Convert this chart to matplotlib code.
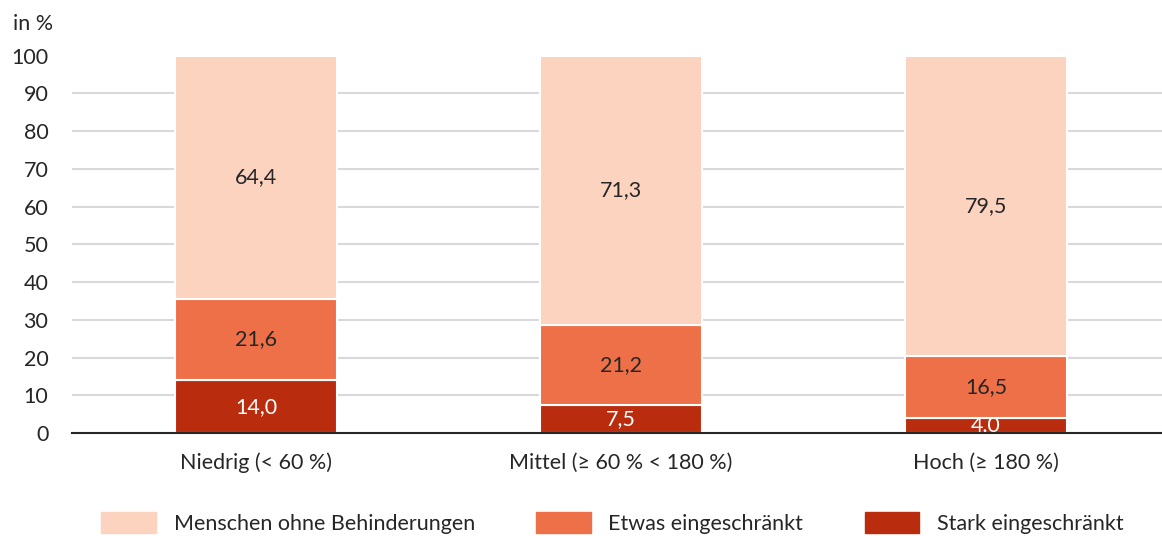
import numpy as np
import matplotlib.pyplot as plt
from matplotlib.patches import Patch

plt.rcParams['font.family'] = ['Lato', 'DejaVu Sans']

# Data
categories = ['Niedrig (< 60 %)', 'Mittel (≥ 60 % < 180 %)', 'Hoch (≥ 180 %)']
stark = [14.0, 7.5, 4.0]
etwas = [21.6, 21.2, 16.5]
ohne = [64.4, 71.3, 79.5]
series_names = ['Menschen ohne Behinderungen', 'Etwas eingeschränkt', 'Stark eingeschränkt']
yticks = [0, 10, 20, 30, 40, 50, 60, 70, 80, 90, 100]

# Colours
c_ohne = '#FBD3BF'
c_etwas = '#EE7048'
c_stark = '#B92C0D'
txt = '#262626'

fig = plt.figure(figsize=(11.62, 5.36), dpi=100)
ax = fig.add_axes([0.062, 0.192, 0.938, 0.704])

x = np.arange(len(categories))
w = 0.444
stark = np.array(stark)
etwas = np.array(etwas)
ohne = np.array(ohne)

ax.bar(x, stark, w, color=c_stark, edgecolor='white', linewidth=1.5, zorder=3)
ax.bar(x, etwas, w, bottom=stark, color=c_etwas, edgecolor='white', linewidth=1.5, zorder=3)
ax.bar(x, ohne, w, bottom=stark + etwas, color=c_ohne, edgecolor='white', linewidth=1.5, zorder=3)

def fmt(v):
    return f'{v:.1f}'.replace('.', ',')

fs = 15.5
for i in range(len(x)):
    ax.text(x[i], stark[i] / 2, fmt(stark[i]), ha='center', va='center',
            color='white', fontsize=fs, zorder=4, clip_on=True)
    ax.text(x[i], stark[i] + etwas[i] / 2, fmt(etwas[i]), ha='center', va='center',
            color=txt, fontsize=fs, zorder=4)
    ax.text(x[i], stark[i] + etwas[i] + ohne[i] / 2, fmt(ohne[i]), ha='center', va='center',
            color=txt, fontsize=fs, zorder=4)

ax.set_xlim(-0.504, 2.482)
ax.set_ylim(0, 100)
ax.set_yticks(yticks)
ax.set_xticks(x)
ax.set_xticklabels(categories, fontsize=fs, color=txt)
ax.tick_params(axis='y', length=0, pad=17, labelsize=fs, labelcolor=txt)
ax.tick_params(axis='x', length=0, pad=14)
for lab in ax.get_yticklabels():
    lab.set_horizontalalignment('right')

ax.yaxis.grid(True, color='#D9D9D9', linewidth=1.5, zorder=0)
ax.get_ygridlines()[-1].set_visible(False)
ax.get_ygridlines()[0].set_visible(False)

for s in ['top', 'right', 'left']:
    ax.spines[s].set_visible(False)
ax.spines['bottom'].set_color('#262626')
ax.spines['bottom'].set_linewidth(1.5)
ax.spines['bottom'].set_zorder(5)

fig.text(0.011, 0.955, 'in %', fontsize=fs, color=txt, va='center', ha='left')

handles = [Patch(color=c_ohne), Patch(color=c_etwas), Patch(color=c_stark)]
fig.legend(handles, series_names, loc='center', bbox_to_anchor=(0.527, 0.024),
           ncol=3, frameon=False, fontsize=fs, handlelength=2.55, handleheight=1.07,
           handletextpad=0.8, columnspacing=2.85, labelcolor=txt)

fig.savefig('out.png', dpi=100)
